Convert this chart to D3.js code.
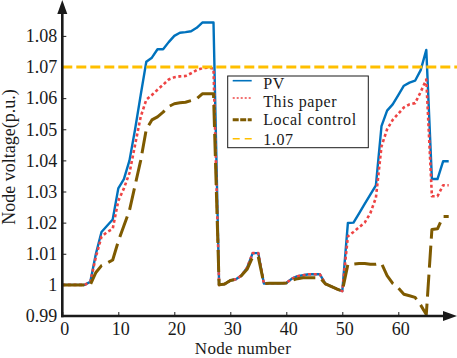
<!DOCTYPE html>
<html>
<head>
<meta charset="utf-8">
<script src="https://cdn.jsdelivr.net/npm/d3@7"></script>
<style>
  html, body { margin: 0; padding: 0; background: #fff; }
  svg { display: block; }
  text { font-family: "Liberation Serif", "Times New Roman", serif; fill: #1a1a1a; }
</style>
</head>
<body>
<div id="chart"></div>
<script>
// node numbers 0..69
const nodes = d3.range(0, 70);

const pvValues = [
  1.000, 1.000, 1.000, 1.000, 1.000, 1.001, 1.010, 1.017, 1.019, 1.021,
  1.031, 1.034, 1.040, 1.050, 1.061, 1.0717, 1.073, 1.0757, 1.0757, 1.078,
  1.080, 1.081, 1.0812, 1.0815, 1.0826, 1.0843, 1.0843, 1.0843, 1.000, 1.0003,
  1.0014, 1.0018, 1.003, 1.0055, 1.0102, 1.0102, 1.0004, 1.0005, 1.0005, 1.0005,
  1.0006, 1.002, 1.0028, 1.0031, 1.0034, 1.0034, 1.0034, 1.0003, 0.9995, 0.9987,
  0.998, 1.0199, 1.020, 1.023, 1.026, 1.029, 1.032, 1.051, 1.056, 1.058,
  1.061, 1.064, 1.065, 1.0656, 1.069, 1.0755, 1.034, 1.034, 1.0397, 1.0397
];

const paperValues = [
  1.000, 1.000, 1.000, 1.000, 1.000, 1.001, 1.009, 1.0155, 1.017, 1.018,
  1.027, 1.031, 1.036, 1.045, 1.054, 1.0595, 1.061, 1.0627, 1.0643, 1.066,
  1.0667, 1.067, 1.0671, 1.068, 1.069, 1.0696, 1.0698, 1.0695, 1.000, 1.0003,
  1.0014, 1.0018, 1.003, 1.0055, 1.0102, 1.0102, 1.0004, 1.0005, 1.0005, 1.0005,
  1.0006, 1.002, 1.0028, 1.0031, 1.0034, 1.0034, 1.0034, 1.0003, 0.9995, 0.9987,
  0.998, 1.0156, 1.017, 1.0185, 1.020, 1.023, 1.028, 1.0445, 1.050, 1.053,
  1.055, 1.057, 1.058, 1.0584, 1.062, 1.066, 1.0285, 1.0285, 1.032, 1.032
];

const localValues = [
  1.000, 1.000, 1.000, 1.000, 1.000, 1.000, 1.004, 1.0062, 1.007, 1.008,
  1.014, 1.019, 1.024, 1.032, 1.040, 1.050, 1.053, 1.054, 1.0555, 1.0573,
  1.0582, 1.0585, 1.0587, 1.0592, 1.0598, 1.0614, 1.0614, 1.0614, 1.000, 1.0003,
  1.0014, 1.0018, 1.003, 1.005, 1.009, 1.009, 1.0004, 1.0005, 1.0005, 1.0005,
  1.0006, 1.0015, 1.002, 1.0023, 1.0023, 1.0023, 1.0023, 1.0003, 0.9995, 0.9987,
  0.998, 1.0066, 1.0067, 1.0069, 1.0069, 1.0066, 1.0066, 1.0069, 1.003, 1.0005,
  0.999, 0.997, 0.9965, 0.996, 0.9935, 0.9905, 1.0178, 1.018, 1.022, 1.022
];

const limitValue = 1.07;

const seriesNames = ["PV", "This paper", "Local control", "1.07"];
const xTicks = [0, 10, 20, 30, 40, 50, 60];
const yTicks = [0.99, 1.00, 1.01, 1.02, 1.03, 1.04, 1.05, 1.06, 1.07, 1.08];

const width = 457;
const height = 358;

const svg = d3.select("#chart")
  .append("svg")
  .attr("width", width)
  .attr("height", height);

const x = d3.scaleLinear().domain([0, 70]).range([62.3, 454.3]);
const y = d3.scaleLinear().domain([0.99, 1.08]).range([316, 35.9]);

const styles = [
  { color: "#0072BD", width: 2.4, dash: null },
  { color: "#EE4444", width: 2.6, dash: "3,2.6" },
  { color: "#7E5A00", width: 3, dash: "22,7" },
  { color: "#FFBF00", width: 3.2, dash: "10,4" }
];

// axes (ticks inward, domain drawn by hand with arrows)
const yAxis = svg.append("g")
  .attr("transform", `translate(${x(0)},0)`)
  .call(d3.axisLeft(y)
    .tickValues(yTicks)
    .tickSizeInner(-4)
    .tickSizeOuter(0)
    .tickPadding(5)
    .tickFormat(d => String(+d.toFixed(2))));

const xAxis = svg.append("g")
  .attr("transform", `translate(0,${y(0.99)})`)
  .call(d3.axisBottom(x)
    .tickValues(xTicks)
    .tickSizeInner(-4)
    .tickSizeOuter(0)
    .tickPadding(6.5)
    .tickFormat(d3.format("d")));

[xAxis, yAxis].forEach(g => {
  g.select(".domain").remove();
  g.selectAll(".tick line").attr("stroke", "#1a1a1a").attr("stroke-width", 1);
  g.selectAll(".tick text")
    .style("font-family", "'Liberation Serif', serif")
    .style("font-size", "18px")
    .attr("fill", "#1a1a1a");
});
xAxis.selectAll(".tick text").attr("dx", 2);

const line = d3.line()
  .x((d, i) => x(nodes[i]))
  .y(d => y(d));

const plotSeries = [pvValues, paperValues, localValues];

plotSeries.forEach((vals, i) => {
  svg.append("path")
    .datum(vals)
    .attr("fill", "none")
    .attr("stroke", styles[i].color)
    .attr("stroke-width", styles[i].width)
    .attr("stroke-dasharray", styles[i].dash)
    .attr("stroke-linejoin", "round")
    .attr("d", line);
});

svg.append("line")
  .attr("x1", x(0))
  .attr("x2", width)
  .attr("y1", y(limitValue))
  .attr("y2", y(limitValue))
  .attr("stroke", styles[3].color)
  .attr("stroke-width", styles[3].width)
  .attr("stroke-dasharray", styles[3].dash);

// axis lines with arrows
const axisColor = "#1a1a1a";
svg.append("line")
  .attr("x1", x(0)).attr("x2", x(0))
  .attr("y1", y(0.99) + 1.2).attr("y2", 10)
  .attr("stroke", axisColor).attr("stroke-width", 2.6);
svg.append("line")
  .attr("x1", x(0) - 1.2).attr("x2", width - 10)
  .attr("y1", y(0.99)).attr("y2", y(0.99))
  .attr("stroke", axisColor).attr("stroke-width", 2.6);
svg.append("path")
  .attr("d", `M${x(0)},0 L${x(0) - 5},14 L${x(0) + 5},14 Z`)
  .attr("fill", axisColor);
svg.append("path")
  .attr("d", `M${width},${y(0.99)} L${width - 14},${y(0.99) - 5} L${width - 14},${y(0.99) + 5} Z`)
  .attr("fill", axisColor);

// axis titles
svg.append("text")
  .attr("x", 243)
  .attr("y", 354.3)
  .attr("text-anchor", "middle")
  .style("font-size", "17px")
  .style("letter-spacing", "0.3px")
  .text("Node number");

svg.append("text")
  .attr("transform", "translate(15,157) rotate(-90)")
  .attr("text-anchor", "middle")
  .style("font-size", "18px")
  .text("Node voltage(p.u.)");

// legend
const legendBox = { x: 227.7, y: 76, w: 140.6, h: 71.7 };
const legendSampleY = [4.7, 22, 43.7, 62.7];
const legendTextY = [12.5, 30.7, 48.9, 69.2];
const legendSampleStyle = [
  { width: 1.6, dash: null },
  { width: 1.6, dash: "2,2" },
  { width: 3, dash: "6,1.5" },
  { width: 1.6, dash: "7,5" }
];

const legend = svg.append("g")
  .attr("transform", `translate(${legendBox.x},${legendBox.y})`);

legend.append("rect")
  .attr("width", legendBox.w)
  .attr("height", legendBox.h)
  .attr("fill", "#fff")
  .attr("stroke", "#1a1a1a")
  .attr("stroke-width", 1);

const items = legend.selectAll(".legend-item")
  .data(seriesNames)
  .enter()
  .append("g")
  .attr("class", "legend-item");

items.append("line")
  .attr("x1", 5)
  .attr("x2", 24)
  .attr("y1", (d, i) => legendSampleY[i])
  .attr("y2", (d, i) => legendSampleY[i])
  .attr("stroke", (d, i) => styles[i].color)
  .attr("stroke-width", (d, i) => legendSampleStyle[i].width)
  .attr("stroke-dasharray", (d, i) => legendSampleStyle[i].dash);

items.append("text")
  .attr("x", 35.5)
  .attr("y", (d, i) => legendTextY[i])
  .style("font-size", "16px")
  .style("letter-spacing", "0.6px")
  .text(d => d);
</script>
</body>
</html>
